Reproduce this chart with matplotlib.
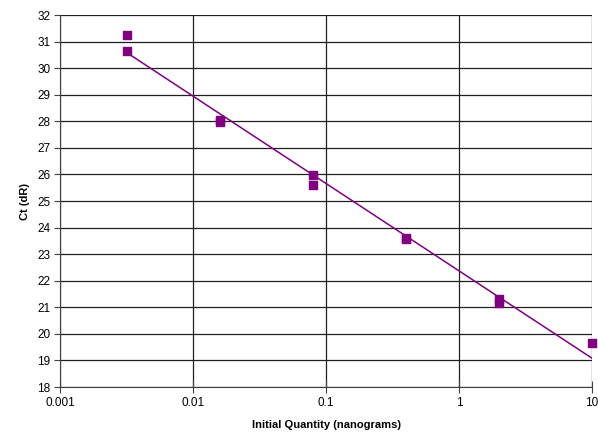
import numpy as np
import matplotlib.pyplot as plt

plt.rcParams['font.family'] = ['Liberation Sans', 'DejaVu Sans']

# Standard curve data (5-fold dilutions)
quantity = [0.0032, 0.0032, 0.016, 0.016, 0.08, 0.08, 0.4, 0.4, 2, 2, 10]
ct = [31.25, 30.65, 28.05, 27.98, 25.98, 25.62, 23.62, 23.58, 21.32, 21.15, 19.66]

slope, intercept = np.polyfit(np.log10(quantity), ct, 1)
x_fit = np.array([min(quantity), max(quantity)])
y_fit = slope * np.log10(x_fit) + intercept

fig = plt.figure(figsize=(5.98, 4.33), dpi=100)
ax = fig.add_axes([60 / 598, 46 / 433, 532 / 598, 372 / 433])

ax.plot(x_fit, y_fit, color='#800080', lw=1.1, zorder=3)
ax.scatter(quantity, ct, marker='s', s=32, color='#800080', zorder=4, clip_on=False)

ax.set_xscale('log')
ax.set_xlim(0.001, 10)
ax.set_ylim(18, 32)
ax.set_yticks(range(18, 33))
ax.set_xticks([0.001, 0.01, 0.1, 1, 10])
ax.set_xticklabels(['0.001', '0.01', '0.1', '1', '10'])
ax.minorticks_off()
ax.grid(True, color='#202020', lw=0.9)
ax.set_axisbelow(True)
for s in ['top', 'right']:
    ax.spines[s].set_visible(False)
for s in ['left', 'bottom']:
    ax.spines[s].set_color('#404040')
ax.tick_params(labelsize=8.5, length=4, width=0.8, color='#404040', pad=3)
ax.tick_params(axis='x', direction='inout', length=8, pad=3)

ax.set_xlabel('Initial Quantity (nanograms)', fontsize=8, fontweight='bold', labelpad=8)
ax.set_ylabel('Ct (dR)', fontsize=8, fontweight='bold', labelpad=5)

fig.savefig('out.png', dpi=100)
